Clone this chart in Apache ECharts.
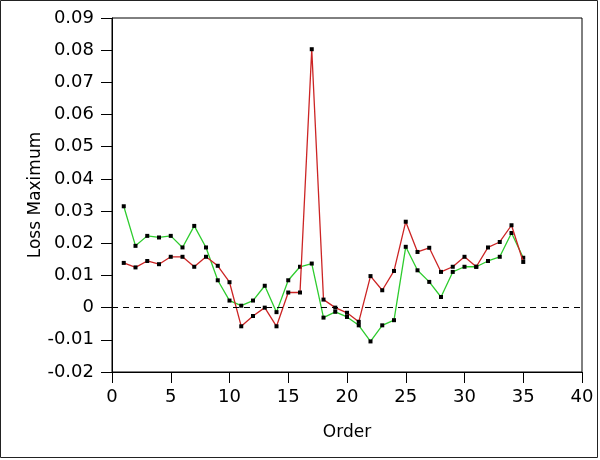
<!DOCTYPE html>
<html>
<head>
<meta charset="utf-8">
<script src="https://cdn.jsdelivr.net/npm/echarts@6/dist/echarts.min.js"></script>
<style>html,body{margin:0;padding:0;background:#fff;}#c{width:600px;height:460px;}</style>
</head>
<body>
<div id="c"></div>
<script>
var orders = [1,2,3,4,5,6,7,8,9,10,11,12,13,14,15,16,17,18,19,20,21,22,23,24,25,26,27,28,29,30,31,32,33,34,35];
var greenValues = [0.0315,0.0192,0.0223,0.0218,0.0223,0.0187,0.0254,0.0187,0.0085,0.0022,0.0006,0.0022,0.0068,-0.0014,0.0085,0.0127,0.0137,-0.0031,-0.0013,-0.0029,-0.0055,-0.0105,-0.0055,-0.0039,0.0189,0.0116,0.0080,0.0033,0.0111,0.0127,0.0127,0.0145,0.0158,0.0232,0.0155];
var redValues = [0.0139,0.0125,0.0145,0.0135,0.0158,0.0158,0.0127,0.0158,0.0130,0.0079,-0.0058,-0.0026,0.0000,-0.0058,0.0047,0.0047,0.0803,0.0025,0.0000,-0.0016,-0.0044,0.0098,0.0054,0.0114,0.0267,0.0173,0.0186,0.0111,0.0127,0.0158,0.0127,0.0187,0.0204,0.0256,0.0142];
var yTicks = {min:-0.02, max:0.09, step:0.01};
var xTicks = {min:0, max:40, step:5};

function pairs(xs, ys){ return xs.map(function(x,i){ return [x, ys[i]]; }); }

var font = 'DejaVu Sans';
var chart = echarts.init(document.getElementById('c'), null, {renderer:'canvas'});
chart.setOption({
  animation:false,
  backgroundColor:'#ffffff',
  graphic:[{type:'rect', shape:{x:0.5,y:0.5,width:597,height:457}, style:{fill:'none', stroke:'#222', lineWidth:1}, silent:true}],
  grid:{left:112, right:18, top:18, bottom:88, show:true, borderColor:'#000', borderWidth:1, backgroundColor:'transparent'},
  xAxis:{type:'value', min:xTicks.min, max:xTicks.max, interval:xTicks.step,
    name:'Order', nameLocation:'middle', nameGap:52, nameMoveOverlap:false,
    nameTextStyle:{color:'#000', fontFamily:font, fontSize:17},
    axisLine:{show:true, onZero:false, lineStyle:{color:'#000', width:1}},
    axisTick:{show:true, length:11, lineStyle:{color:'#000'}},
    axisLabel:{color:'#000', fontFamily:font, fontSize:18, margin:16},
    splitLine:{show:false}},
  yAxis:{type:'value', min:yTicks.min, max:yTicks.max, interval:yTicks.step,
    name:'Loss Maximum', nameLocation:'middle', nameGap:68, nameMoveOverlap:false,
    nameTextStyle:{color:'#000', fontFamily:font, fontSize:17},
    axisLine:{show:true, onZero:false, lineStyle:{color:'#000', width:1}},
    axisTick:{show:true, length:11, lineStyle:{color:'#000'}},
    axisLabel:{color:'#000', fontFamily:font, fontSize:18, margin:18,
      formatter:function(v){ var r=Math.round(v*100)/100; return r===0?'0':r.toFixed(2); }},
    splitLine:{show:false}},
  series:[
    {type:'line', name:'green', data:pairs(orders, greenValues), symbol:'rect', symbolSize:4,
      lineStyle:{color:'#2ecc2e', width:1.3}, itemStyle:{color:'#000'}, z:2,
      markLine:{silent:true, symbol:['none','none'], label:{show:false},
        lineStyle:{color:'#000', type:[6,5], width:1}, data:[{yAxis:0}]}},
    {type:'line', name:'red', data:pairs(orders, redValues), symbol:'rect', symbolSize:4,
      lineStyle:{color:'#cc2424', width:1.3}, itemStyle:{color:'#000'}, z:3}
  ]
});
</script>
</body>
</html>
